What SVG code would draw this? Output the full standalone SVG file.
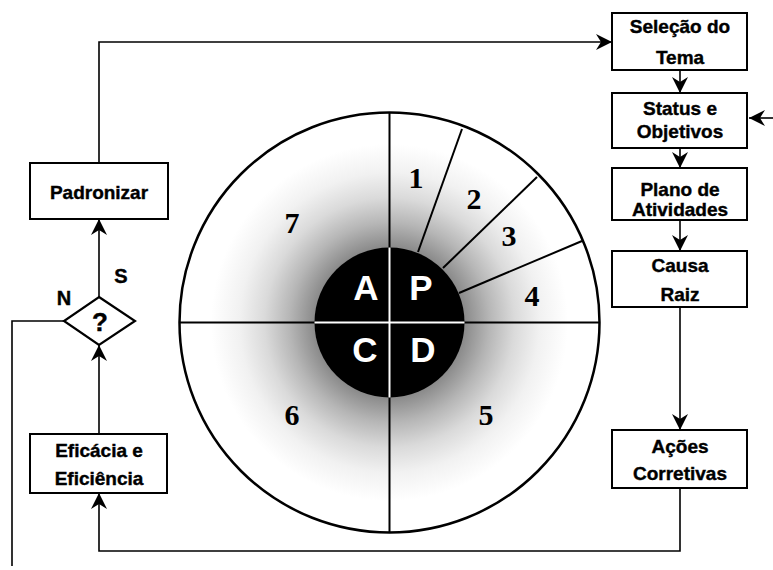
<svg xmlns="http://www.w3.org/2000/svg" width="773" height="570" viewBox="0 0 773 570">
<defs>
<marker id="ah" markerUnits="userSpaceOnUse" markerWidth="16" markerHeight="16" viewBox="0 0 16 16" refX="16" refY="8" orient="auto">
<path d="M16,8 L0,0 L5,8 L0,16 Z" fill="#000"/>
</marker>
<radialGradient id="shade" cx="389.5" cy="322.5" r="210" gradientUnits="userSpaceOnUse">
<stop offset="0" stop-color="#808080"/>
<stop offset="0.357" stop-color="#8a8a8a"/>
<stop offset="0.476" stop-color="#b6b6b6"/>
<stop offset="0.595" stop-color="#dadada"/>
<stop offset="0.714" stop-color="#f1f1f1"/>
<stop offset="0.85" stop-color="#ffffff"/>
<stop offset="1" stop-color="#ffffff"/>
</radialGradient>
</defs>
<style>
.box{fill:#fff;stroke:#000;stroke-width:2}
.lbl{font-family:"Liberation Sans",Arial,sans-serif;font-weight:bold;font-size:19px;text-anchor:middle;fill:#000;stroke:#000;stroke-width:0.4}
.num{font-family:"Liberation Serif","Times New Roman",serif;font-weight:bold;font-size:30px;text-anchor:middle;fill:#000}
.pdca{font-family:"Liberation Sans",Arial,sans-serif;font-weight:bold;font-size:35px;text-anchor:middle;fill:#fff}
.con{fill:none;stroke:#000;stroke-width:1.6}
.div{stroke:#000;stroke-width:2;fill:none}
</style>
<rect width="773" height="570" fill="#fff"/>

<g id="pdca-wheel">
<circle cx="389.5" cy="322.5" r="210" fill="url(#shade)" stroke="#000" stroke-width="2.5"/>
<line class="div" x1="389.5" y1="112.5" x2="389.5" y2="532.5"/>
<line class="div" x1="179.5" y1="322.5" x2="599.5" y2="322.5"/>
<line class="div" x1="418" y1="252" x2="462" y2="129"/>
<line class="div" x1="443" y1="268" x2="537" y2="177"/>
<line class="div" x1="459" y1="293" x2="582" y2="241"/>
<circle cx="389.5" cy="322.5" r="75" fill="#000"/>
<line x1="389.5" y1="247.5" x2="389.5" y2="397.5" stroke="#fff" stroke-width="2"/>
<line x1="314.5" y1="322.5" x2="464.5" y2="322.5" stroke="#fff" stroke-width="2"/>
<text class="pdca" x="366" y="300">A</text>
<text class="pdca" x="421" y="300">P</text>
<text class="pdca" x="365" y="362">C</text>
<text class="pdca" x="423" y="362">D</text>
<text class="num" x="416" y="188">1</text>
<text class="num" x="474" y="209">2</text>
<text class="num" x="509" y="246">3</text>
<text class="num" x="532" y="306">4</text>
<text class="num" x="486" y="425">5</text>
<text class="num" x="292" y="425">6</text>
<text class="num" x="292" y="233">7</text>
</g>

<g id="connectors">
<path class="con" d="M99,163 V42 H612" marker-end="url(#ah)"/>
<path class="con" d="M680,70 V93" marker-end="url(#ah)"/>
<path class="con" d="M680,148 V168" marker-end="url(#ah)"/>
<path class="con" d="M680,220 V251" marker-end="url(#ah)"/>
<path class="con" d="M680,307 V430" marker-end="url(#ah)"/>
<path class="con" d="M680,488 V551 H99 V493" marker-end="url(#ah)"/>
<path class="con" d="M99,434 V345" marker-end="url(#ah)"/>
<path class="con" d="M99,297 V219" marker-end="url(#ah)"/>
<path class="con" d="M64,321 H12 V566"/>
<path class="con" d="M773,118 H749" marker-end="url(#ah)"/>
</g>

<g id="selecao-tema">
<rect class="box" x="612" y="13" width="135" height="57"/>
<text class="lbl" x="680" y="33">Seleção do</text>
<text class="lbl" x="680" y="64">Tema</text>
</g>
<g id="status-objetivos">
<rect class="box" x="612" y="93" width="135" height="55"/>
<text class="lbl" x="680" y="115">Status e</text>
<text class="lbl" x="680" y="138">Objetivos</text>
</g>
<g id="plano-atividades">
<rect class="box" x="612" y="168" width="135" height="52"/>
<text class="lbl" x="680" y="196">Plano de</text>
<text class="lbl" x="680" y="216">Atividades</text>
</g>
<g id="causa-raiz">
<rect class="box" x="612" y="251" width="135" height="56"/>
<text class="lbl" x="680" y="272">Causa</text>
<text class="lbl" x="680" y="301">Raiz</text>
</g>
<g id="acoes-corretivas">
<rect class="box" x="612" y="430" width="135" height="58"/>
<text class="lbl" x="680" y="453">Ações</text>
<text class="lbl" x="680" y="480">Corretivas</text>
</g>
<g id="padronizar">
<rect class="box" x="30" y="163" width="138" height="56"/>
<text class="lbl" x="99" y="199">Padronizar</text>
</g>
<g id="decisao">
<polygon points="99,297 135,321 99,345 64,321" fill="#fff" stroke="#000" stroke-width="2.2"/>
<text class="lbl" x="100" y="331" style="font-size:26px">?</text>
<text class="lbl" x="121" y="283" style="font-size:20px">S</text>
<text class="lbl" x="64" y="305" style="font-size:20px">N</text>
</g>
<g id="eficacia-eficiencia">
<rect class="box" x="30" y="434" width="137" height="59"/>
<text class="lbl" x="99" y="457">Eficácia e</text>
<text class="lbl" x="99" y="485">Eficiência</text>
</g>
</svg>
